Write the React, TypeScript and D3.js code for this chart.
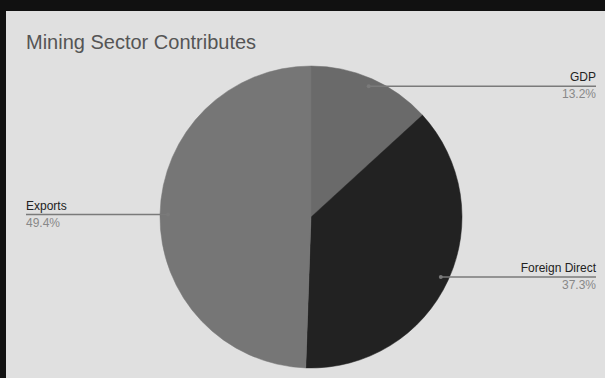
import React from "react";
import * as d3 from "d3";

const categories = ["GDP", "Foreign Direct", "Exports"];
const values = [13.2, 37.3, 49.4];
const labels = ["13.2%", "37.3%", "49.4%"];
const colors = ["#6a6a6a", "#222222", "#767676"];

export default function App() {
  const W = 605, H = 378;
  const cx = 311, cy = 217, R = 151;
  const pie = d3.pie<number>().sort(null).value((d) => d);
  const arcs = pie(values);
  const arc = d3.arc<d3.PieArcDatum<number>>().innerRadius(0).outerRadius(R);
  const anchorR = R * 0.947;
  return (
    <div style={{ position: "fixed", left: 0, top: 0 }}>
      <svg width={W} height={H} style={{ display: "block" }}>
        <rect x={0} y={0} width={W} height={H} fill="#111" />
        <rect x={6} y={11} width={W - 6} height={H - 11} fill="#e0e0e0" />
        <text x={26} y={49} fontFamily="Liberation Sans, Arial, sans-serif" fontSize={20} fill="#555">
          Mining Sector Contributes
        </text>
        <g transform={`translate(${cx},${cy})`}>
          {arcs.map((a, i) => (
            <path key={i} d={arc(a) || ""} fill={colors[i]} stroke={colors[i]} strokeWidth={0.5} />
          ))}
        </g>
        {arcs.map((a, i) => {
          const mid = (a.startAngle + a.endAngle) / 2;
          const ax = cx + anchorR * Math.sin(mid);
          const ay = cy - anchorR * Math.cos(mid);
          const right = Math.sin(mid) > 0;
          const ex = right ? 596 : 26;
          return (
            <g key={i}>
              <line x1={ax} y1={ay} x2={ex} y2={ay} stroke="#7a7a7a" strokeWidth={1.5} />
              <circle cx={ax} cy={ay} r={2} fill="#7a7a7a" />
              <text x={ex} y={ay - 5} textAnchor={right ? "end" : "start"} fontFamily="Liberation Sans, Arial, sans-serif" fontSize={12} fill="#222">
                {categories[i]}
              </text>
              <text x={ex} y={ay + 12} textAnchor={right ? "end" : "start"} fontFamily="Liberation Sans, Arial, sans-serif" fontSize={12} fill="#888">
                {labels[i]}
              </text>
            </g>
          );
        })}
      </svg>
    </div>
  );
}
